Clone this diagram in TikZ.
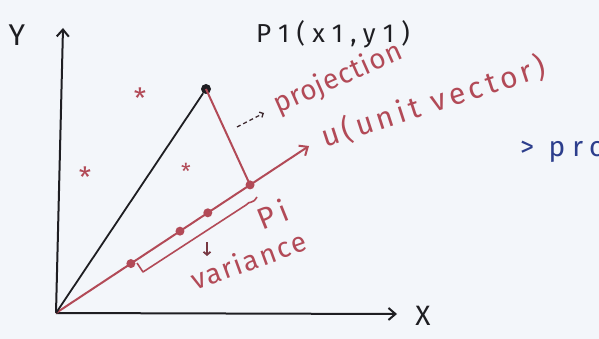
\documentclass[tikz,border=0pt]{standalone}
\usepackage{fontspec}
\setmainfont{Fira Sans}
\usetikzlibrary{arrows.meta,calc}
\definecolor{ink}{HTML}{B24A57}
\definecolor{pen}{HTML}{1E1E22}
\definecolor{bluepen}{HTML}{2C3E8C}
\definecolor{paper}{HTML}{F3F6FA}
\newcommand{\hw}[2]{\fontsize{#1}{#1}\selectfont\addfontfeature{LetterSpace=#2}}
\tikzset{
  axis/.style={pen, line width=2pt, -{Straight Barb[length=7pt,width=12pt,line width=2pt]}},
  redline/.style={ink, line width=2pt},
  dotr/.style={circle, fill=ink, inner sep=0pt, minimum size=9pt},
  dotb/.style={circle, fill=pen, inner sep=0pt, minimum size=10pt},
  lbl/.style={inner sep=0pt},
  redlbl/.style={lbl, text=ink},
  star/.style={text=ink, font=\fontsize{28}{28}\selectfont, inner sep=0pt}
}
\begin{document}
\begin{tikzpicture}[x=1pt,y=-1pt]
\useasboundingbox (0,0) rectangle (599,339);
\clip (0,0) rectangle (599,339);
\fill[paper] (0,0) rectangle (599,339);
% axes
\coordinate (O) at (56,313);
\coordinate (Ytip) at (63,28);
\coordinate (Xtip) at (397,314);
\draw[axis] (O) -- (Ytip);
\draw[axis] (O) -- (Xtip);
\node[lbl, text=pen, font=\hw{30}{0}] (ylab) at (17,35) {Y};
\node[lbl, text=pen, font=\hw{28}{0}] (xlab) at (423,316) {X};
% unit vector
\coordinate (Utip) at (309,146);
\draw[redline, -{Straight Barb[length=7pt,width=12pt,line width=2pt]}] (O) -- (Utip);
% point P1
\node[dotb] (P1) at (206,89) {};
\draw[pen, line width=1.8pt] (O) -- (P1);
\node[dotr] (F) at ($(O)!0.767!(Utip)$) {};
\draw[redline] (P1.center) -- (F.center);
\node[dotr] (d1) at ($(O)!0.296!(Utip)$) {};
\node[dotr] (d2) at ($(O)!0.49!(Utip)$) {};
\node[dotr] (d3) at ($(O)!0.60!(Utip)$) {};
% bracket
\coordinate (b0) at (137,263);
\coordinate (b1) at (143,272);
\coordinate (b2) at (246,205);
\coordinate (b3) at (257,197);
\draw[redline, line width=1.6pt, line join=round] (b0) -- (b1) -- (b2) .. controls (250,200) and (252,205) .. (b3);
% labels
\node[lbl, text=pen, font=\hw{26}{28}] (p1lab) at (333,34) {P1(x1,y1)};
\coordinate (da) at (237,127);
\coordinate (db) at (264,113);
\draw[pen!80!ink, line width=1.3pt, dashed, dash pattern=on 4pt off 3pt, -{Straight Barb[length=3pt,width=6pt]}] (da) -- (db);
\node[redlbl, rotate=24, anchor=base west, font=\hw{28}{3}] (proj) at (278,114) {projection};
\node[redlbl, rotate=18, anchor=base west, font=\hw{30}{14}] (ulab) at (325,148) {u(unit vector)};
\node[redlbl, rotate=22, anchor=base west, font=\hw{30}{20}] (pi) at (262,231) {Pi};
\coordinate (dA) at (207,242);
\coordinate (dB) at (207,256);
\draw[ink!60!pen, line width=1.8pt, -{Straight Barb[length=3pt,width=7pt]}] (dA) -- (dB);
\node[redlbl, rotate=20, anchor=base west, font=\hw{28}{7}] (var) at (195,291) {variance};
\node[lbl, text=bluepen, anchor=base west, font=\hw{28}{25}] (pro) at (520,157) {> pro};
% stars
\node[star] (s1) at (140,98) {*};
\node[star] (s2) at (85,177) {*};
\node[star, font=\fontsize{22}{22}\selectfont] (s3) at (186,171) {*};
\end{tikzpicture}
\end{document}
